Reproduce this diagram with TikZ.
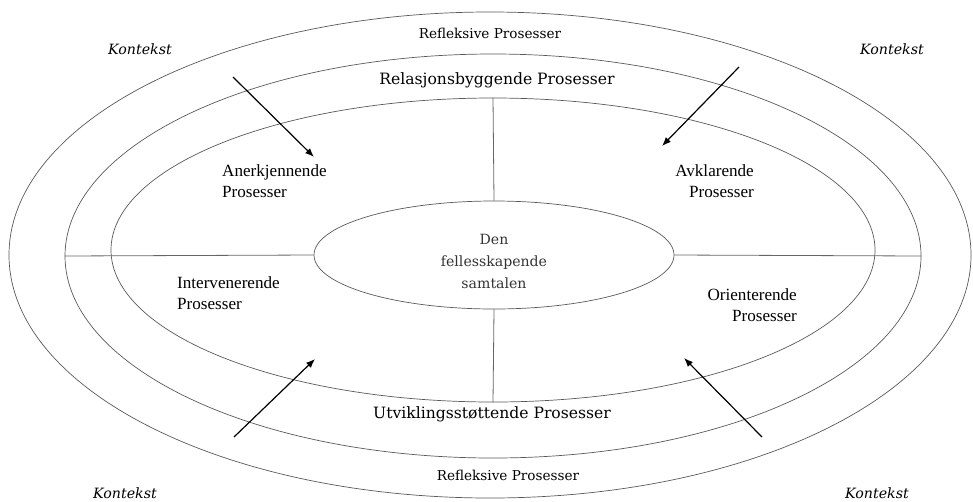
\documentclass[tikz,border=0pt]{standalone}
\usepackage{fontspec}
\setmainfont{DejaVu Serif}
\newfontfamily\quadfont{Liberation Serif}
\usetikzlibrary{shapes.geometric,arrows.meta}
\tikzset{
  ring/.style={ellipse,draw=black!65,line width=0.7pt,inner sep=0pt,fill=none},
  divider/.style={draw=black!60,line width=0.8pt},
  inarrow/.style={draw=black,line width=1.2pt,-{Latex[length=9pt,width=7pt]}},
  refl/.style={font=\fontsize{13.6}{15}\selectfont,inner sep=0pt},
  bandtitle/.style={font=\fontsize{15.6}{18}\selectfont,inner sep=0pt},
  quad/.style={font=\quadfont\fontsize{17.1}{21}\selectfont,inner sep=0pt},
  ctx/.style={font=\itshape\fontsize{14.2}{16}\selectfont,inner sep=0pt},
  coretext/.style={font=\fontsize{14.1}{22}\selectfont,text=black!80,align=center,inner sep=0pt}
}
\begin{document}
\begin{tikzpicture}[x=1pt,y=-1pt]
\useasboundingbox (0,0) rectangle (973,501);
% rings
\node[ring,minimum width=962pt,minimum height=486pt] (outer) at (490,255) {};
\node[ring,minimum width=856pt,minimum height=404pt] (middle) at (493,256) {};
\node[ring,minimum width=764pt,minimum height=304pt] (inner) at (493,250) {};
\node[ring,minimum width=360pt,minimum height=108pt] (core) at (494,255) {};
\node[coretext] (coretxt) at (494,261) {Den\\fellesskapende\\samtalen};
% dividers
\draw[divider] (middle.west) -- (core.west);
\draw[divider] (core.east) -- (middle.east);
\draw[divider] (inner.north) -- (core.north);
\draw[divider] (core.south) -- (inner.south);
% band texts
\node[refl] (refltop) at (490,33) {Refleksive Prosesser};
\node[refl] (reflbot) at (508,475) {Refleksive Prosesser};
\node[bandtitle] (rel) at (497,80) {Relasjonsbyggende Prosesser};
\node[bandtitle] (utv) at (492,414) {Utviklingsstøttende Prosesser};
% quadrant labels
\node[quad,align=left,anchor=west] (aner) at (222,181) {Anerkjennende\\Prosesser};
\node[quad,align=right,anchor=east] (avkl) at (754,181) {Avklarende\\Prosesser};
\node[quad,align=left,anchor=west] (interv) at (177,293) {Intervenerende\\Prosesser};
\node[quad,align=right,anchor=east] (orient) at (797,305) {Orienterende\\Prosesser};
% context labels
\node[ctx] (ktl) at (140,49) {Kontekst};
\node[ctx] (ktr) at (892,49) {Kontekst};
\node[ctx] (kbl) at (125,493) {Kontekst};
\node[ctx] (kbr) at (877,493) {Kontekst};
% arrows
\coordinate (a1s) at (233,77);  \coordinate (a1e) at (314,157);
\coordinate (a2s) at (739,67);  \coordinate (a2e) at (662,146);
\coordinate (a3s) at (234,437); \coordinate (a3e) at (315,359);
\coordinate (a4s) at (762,437); \coordinate (a4e) at (684,358);
\draw[inarrow] (a1s) -- (a1e);
\draw[inarrow] (a2s) -- (a2e);
\draw[inarrow] (a3s) -- (a3e);
\draw[inarrow] (a4s) -- (a4e);
\end{tikzpicture}
\end{document}
